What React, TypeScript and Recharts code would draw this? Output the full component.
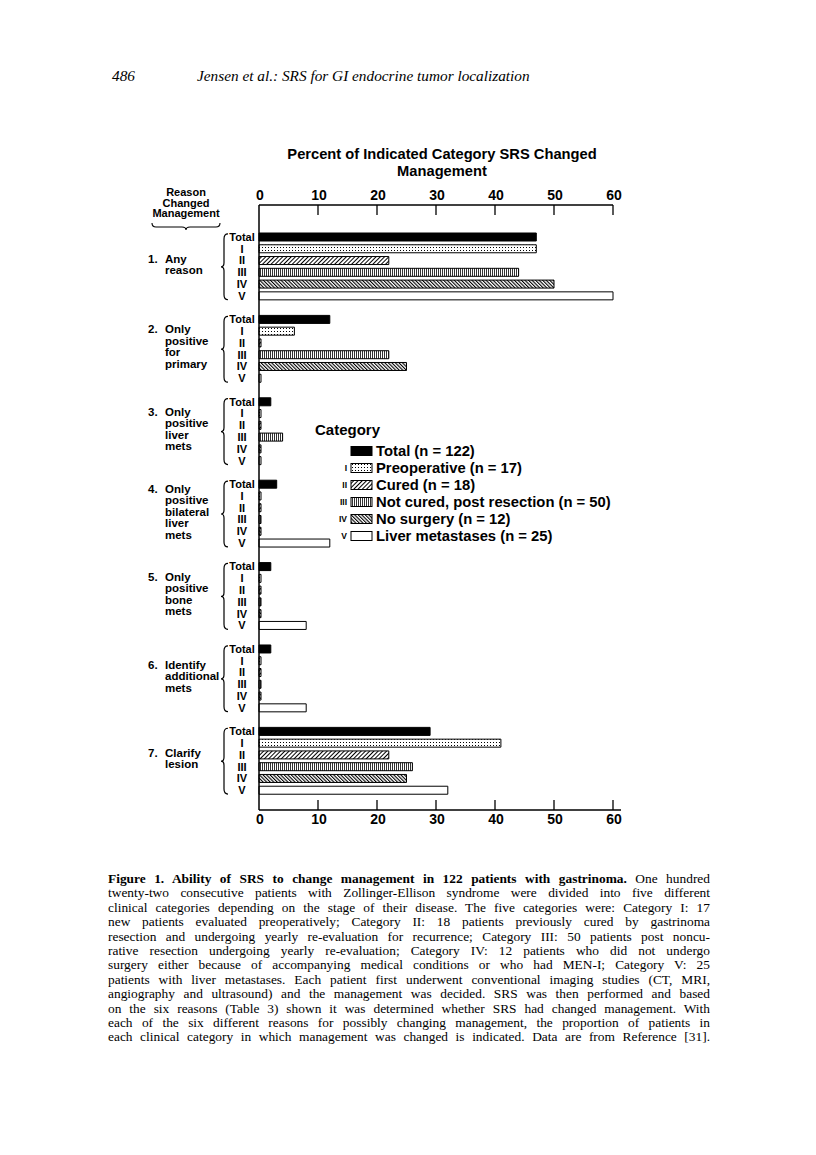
import React from "react"
import { Bar, BarChart, Cell, Legend, XAxis, YAxis } from "recharts"

// reasons SRS changed management (rows on the y axis)
const reasonNumbers = ["1.", "2.", "3.", "4.", "5.", "6.", "7."]
const reasonLines = [
  ["Any", "reason"],
  ["Only", "positive", "for", "primary"],
  ["Only", "positive", "liver", "mets"],
  ["Only", "positive", "bilateral", "liver", "mets"],
  ["Only", "positive", "bone", "mets"],
  ["Identify", "additional", "mets"],
  ["Clarify", "lesion"],
]
const rowLabels = ["Total", "I", "II", "III", "IV", "V"]
const legendNames = [
  "Total (n = 122)",
  "Preoperative (n = 17)",
  "Cured (n = 18)",
  "Not cured, post resection (n = 50)",
  "No surgery (n = 12)",
  "Liver metastases (n = 25)",
]
const xTicks = [0, 10, 20, 30, 40, 50, 60]

// percent of each category in which SRS changed management, per reason 1..7
const totalPct = [47, 12, 2, 3, 2, 2, 29]
const preopPct = [47, 6, 0, 0, 0, 0, 41]
const curedPct = [22, 0, 0, 0, 0, 0, 22]
const notCuredPct = [44, 22, 4, 0, 0, 0, 26]
const noSurgeryPct = [50, 25, 0, 0, 0, 0, 25]
const liverPct = [60, 0, 0, 12, 8, 8, 32]

const series = [totalPct, preopPct, curedPct, notCuredPct, noSurgeryPct, liverPct]

type Row = { key: string; value: number | null; cat: number; group: number }

const rows: Row[] = []
reasonNumbers.forEach((_, g) => {
  if (g > 0) rows.push({ key: `gap${g}`, value: null, cat: -1, group: g })
  series.forEach((s, c) => rows.push({ key: `${g}-${c}`, value: s[g], cat: c, group: g }))
})

const SANS = "'Liberation Sans', Arial, Helvetica, sans-serif"
const SERIF = "'Liberation Serif', 'Times New Roman', serif"

const CHART_W = 816
const CHART_H = 860
const MARGIN = { top: 175, right: 203, bottom: 20, left: 0 }
const AXIS_H = 30
const PAD = { top: 26, bottom: 14 }
const BAR = 8
const PITCH = (CHART_H - MARGIN.top - MARGIN.bottom - 2 * AXIS_H - PAD.top - PAD.bottom) / rows.length

const patternDefs = (p: string) => (
  <defs>
    <pattern id={`${p}-dots`} width={3} height={3} patternUnits="userSpaceOnUse">
      <rect width={3} height={3} fill="#fff" />
      <rect x={1} y={1} width={1} height={1} fill="#000" />
    </pattern>
    <pattern id={`${p}-fwd`} width={3} height={3} patternUnits="userSpaceOnUse" patternTransform="rotate(45)">
      <rect width={3} height={3} fill="#fff" />
      <rect width={1} height={3} fill="#000" />
    </pattern>
    <pattern id={`${p}-vert`} width={2} height={4} patternUnits="userSpaceOnUse">
      <rect width={2} height={4} fill="#fff" />
      <rect width={1} height={4} fill="#333" />
    </pattern>
    <pattern id={`${p}-back`} width={2.5} height={2.5} patternUnits="userSpaceOnUse" patternTransform="rotate(-45)">
      <rect width={2.5} height={2.5} fill="#fff" />
      <rect width={1.1} height={2.5} fill="#000" />
    </pattern>
  </defs>
)

const fillFor = (p: string, cat: number) =>
  ["#000", `url(#${p}-dots)`, `url(#${p}-fwd)`, `url(#${p}-vert)`, `url(#${p}-back)`, "#fff"][cat]

function ReasonTick({ x, y, payload }: any) {
  const row = rows.find((r) => r.key === payload.value)
  if (!row || row.cat < 0) return <g />
  const out = [
    <text key="l" x={x - 17} y={y + 4} textAnchor="middle" fontSize={11} fontWeight="bold" fontFamily={SANS}>
      {rowLabels[row.cat]}
    </text>,
  ]
  if (row.cat === 0) {
    const y0 = y - 3
    const y1 = y + 5 * PITCH + 4
    const ym = (y0 + y1) / 2
    const xb = x - 35
    out.push(
      <path
        key="b"
        d={`M${xb + 4} ${y0} Q${xb} ${y0} ${xb} ${y0 + 5} L${xb} ${ym - 4} Q${xb} ${ym} ${xb - 3} ${ym} Q${xb} ${ym} ${xb} ${ym + 4} L${xb} ${y1 - 5} Q${xb} ${y1} ${xb + 4} ${y1}`}
        fill="none"
        stroke="#000"
        strokeWidth={1.2}
      />
    )
    const lines = reasonLines[row.group]
    const lh = 11.5
    const yc = y + 2.5 * PITCH - 2
    const first = yc - ((lines.length - 1) / 2) * lh + 4
    out.push(
      <text key="n" x={x - 111} y={first} fontSize={11.5} fontWeight="bold" fontFamily={SANS}>
        {reasonNumbers[row.group]}
      </text>
    )
    lines.forEach((w, i) =>
      out.push(
        <text key={`w${i}`} x={x - 94} y={first + i * lh} fontSize={11.5} fontWeight="bold" fontFamily={SANS}>
          {w}
        </text>
      )
    )
  }
  return <g>{out}</g>
}

function TopTick({ x, y, payload }: any) {
  return (
    <g>
      <text x={x + 1} y={y} textAnchor="middle" fontSize={14} fontWeight="bold" fontFamily={SANS}>
        {payload.value}
      </text>
      {payload.value > 0 && <line x1={x} x2={x} y1={y + 5} y2={y + 15} stroke="#000" strokeWidth={1.3} />}
    </g>
  )
}

function BottomTick({ x, y, payload }: any) {
  return (
    <g>
      <text x={x + 1} y={y} textAnchor="middle" fontSize={14} fontWeight="bold" fontFamily={SANS}>
        {payload.value}
      </text>
      {payload.value > 0 && <line x1={x} x2={x} y1={y - 14} y2={y - 24} stroke="#000" strokeWidth={1.3} />}
      {payload.value === 60 && <line x1={x} x2={x + 8} y1={y - 14} y2={y - 14} stroke="#000" strokeWidth={1.5} />}
    </g>
  )
}

const roman = ["", "I", "II", "III", "IV", "V"]

function CategoryLegend() {
  return (
    <svg width={340} height={135} style={{ display: "block" }}>
      {patternDefs("lg")}
      <text x={15} y={20} fontSize={15} fontWeight="bold" fontFamily={SANS}>
        Category
      </text>
      {legendNames.map((name, i) => {
        const cy = 36 + 17 * i
        return (
          <g key={name}>
            <text x={47} y={cy + 3} textAnchor="end" fontSize={8.5} fontWeight="bold" fontFamily={SANS}>
              {roman[i]}
            </text>
            <rect x={51} y={cy - 4.5} width={21} height={9} fill={fillFor("lg", i)} stroke="#000" strokeWidth={1} />
            <text x={76} y={cy + 5} fontSize={14.8} fontWeight="bold" fontFamily={SANS}>
              {name}
            </text>
          </g>
        )
      })}
    </svg>
  )
}

const captionLines = [
  "twenty-two consecutive patients with Zollinger-Ellison syndrome were divided into five different",
  "clinical categories depending on the stage of their disease. The five categories were: Category I: 17",
  "new patients evaluated preoperatively; Category II: 18 patients previously cured by gastrinoma",
  "resection and undergoing yearly re-evaluation for recurrence; Category III: 50 patients post noncu-",
  "rative resection undergoing yearly re-evaluation; Category IV: 12 patients who did not undergo",
  "surgery either because of accompanying medical conditions or who had MEN-I; Category V: 25",
  "patients with liver metastases. Each patient first underwent conventional imaging studies (CT, MRI,",
  "angiography and ultrasound) and the management was decided. SRS was then performed and based",
  "on the six reasons (Table 3) shown it was determined whether SRS had changed management. With",
  "each of the six different reasons for possibly changing management, the proportion of patients in",
  "each clinical category in which management was changed is indicated. Data are from Reference [31].",
]

const lineStyle: React.CSSProperties = {
  textAlign: "justify",
  textAlignLast: "justify",
  whiteSpace: "nowrap",
  height: 14.4,
}

export default function App() {
  return (
    <div style={{ position: "absolute", left: 0, top: 0, width: 816, height: 1155, background: "#fff" }}>
      <div style={{ position: "absolute", left: 112, top: 67, fontFamily: SERIF, fontStyle: "italic", fontSize: 15.3 }}>
        486
      </div>
      <div style={{ position: "absolute", left: 197, top: 67, fontFamily: SERIF, fontStyle: "italic", fontSize: 15.3 }}>
        Jensen et al.: SRS for GI endocrine tumor localization
      </div>

      <div
        style={{
          position: "absolute",
          left: 242,
          top: 146,
          width: 400,
          textAlign: "center",
          fontFamily: SANS,
          fontWeight: "bold",
          fontSize: 14.7,
          lineHeight: "17px",
        }}
      >
        Percent of Indicated Category SRS Changed
        <br />
        Management
      </div>

      <div
        style={{
          position: "absolute",
          left: 136,
          top: 187,
          width: 100,
          textAlign: "center",
          fontFamily: SANS,
          fontWeight: "bold",
          fontSize: 11,
          lineHeight: "10.6px",
        }}
      >
        Reason
        <br />
        Changed
        <br />
        Management
      </div>
      <svg style={{ position: "absolute", left: 0, top: 0 }} width={300} height={240}>
        <path
          d="M152 223 Q152 227 156 227 L182 227 Q186 227 186 230 Q186 227 190 227 L216 227 Q220 227 220 223"
          fill="none"
          stroke="#000"
          strokeWidth={1.1}
        />
      </svg>

      <div style={{ position: "absolute", left: 0, top: 0 }}>
        <BarChart
          layout="vertical"
          width={CHART_W}
          height={CHART_H}
          data={rows}
          margin={MARGIN}
          barSize={BAR}
          barGap={-BAR}
        >
          {patternDefs("bar")}
          <XAxis
            xAxisId="top"
            orientation="top"
            type="number"
            domain={[0, 60]}
            ticks={xTicks}
            height={AXIS_H}
            tickSize={0}
            tickMargin={5}
            tick={<TopTick />}
            axisLine={{ stroke: "#000", strokeWidth: 1.5 }}
            tickLine={false}
          />
          <XAxis
            xAxisId="bottom"
            orientation="bottom"
            type="number"
            domain={[0, 60]}
            ticks={xTicks}
            height={AXIS_H}
            tickSize={0}
            tickMargin={14}
            tick={<BottomTick />}
            axisLine={{ stroke: "#000", strokeWidth: 1.5 }}
            tickLine={false}
          />
          <YAxis
            type="category"
            dataKey="key"
            width={259}
            interval={0}
            tickSize={0}
            tickMargin={0}
            padding={PAD}
            tick={<ReasonTick />}
            axisLine={{ stroke: "#000", strokeWidth: 1.5 }}
            tickLine={false}
          />
          <Legend
            layout="vertical"
            align="center"
            verticalAlign="middle"
            wrapperStyle={{ left: 300, top: 415, width: 340 }}
            content={() => <CategoryLegend />}
          />
          {/* transparent twin so the top axis is bound to the data too */}
          <Bar dataKey="value" xAxisId="top" isAnimationActive={false} fill="none" stroke="none" legendType="none" />
          <Bar
            dataKey="value"
            xAxisId="bottom"
            isAnimationActive={false}
            minPointSize={(v: any) => (v === 0 ? 2 : 0)}
          >
            {rows.map((r) => (
              <Cell key={r.key} fill={r.cat < 0 ? "none" : fillFor("bar", r.cat)} stroke="#000" strokeWidth={1} />
            ))}
          </Bar>
        </BarChart>
      </div>

      <div
        style={{
          position: "absolute",
          left: 108,
          top: 872,
          width: 602,
          fontFamily: SERIF,
          fontSize: 13.4,
          lineHeight: "14.4px",
        }}
      >
        <div style={lineStyle}>
          <b>Figure 1. Ability of SRS to change management in 122 patients with gastrinoma.</b> One hundred
        </div>
        {captionLines.map((l) => (
          <div key={l} style={lineStyle}>
            {l}
          </div>
        ))}
      </div>
    </div>
  )
}
